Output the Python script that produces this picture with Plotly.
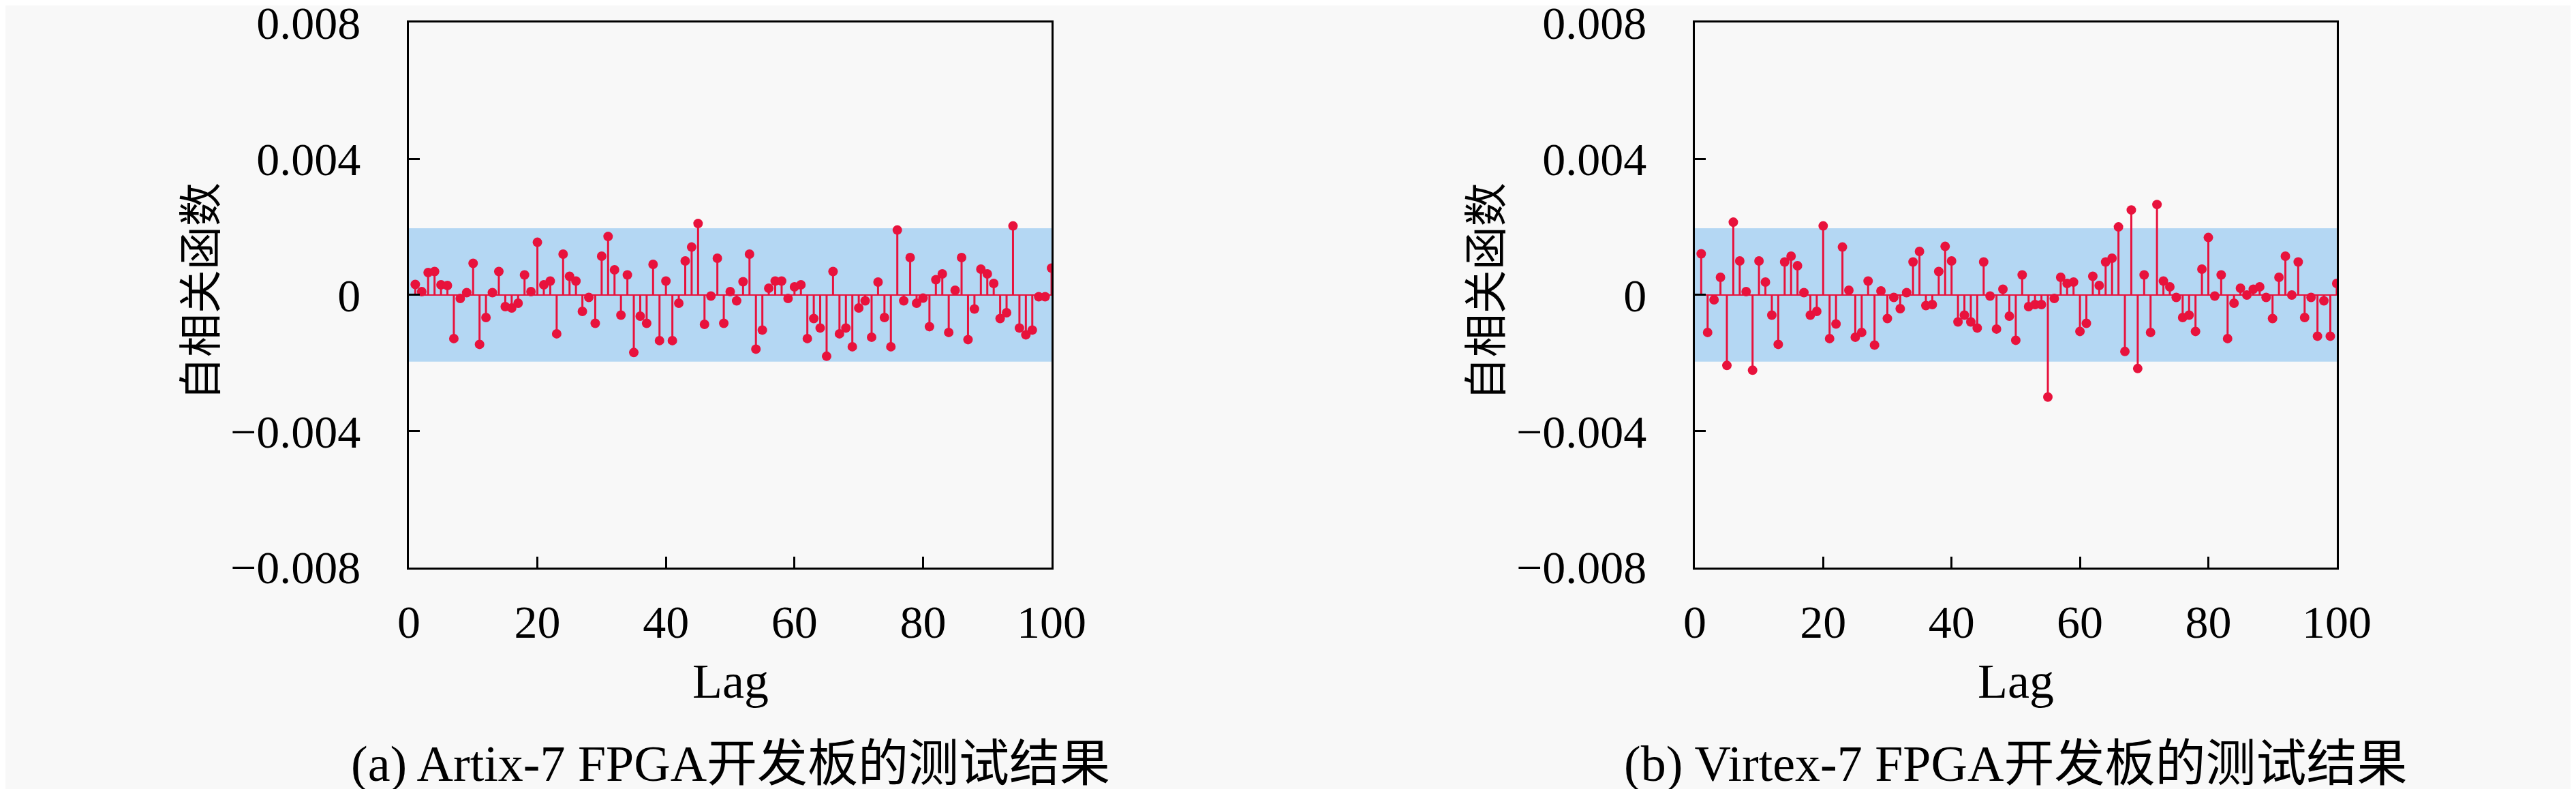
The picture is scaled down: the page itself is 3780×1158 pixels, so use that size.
import plotly.graph_objects as go

# autocorrelation by lag
lags = list(range(1, 101))

artix_acf = [
    0.00031, 0.00010, 0.00066, 0.00069, 0.00030, 0.00028, -0.00128, -0.00010, 0.00007, 0.00093,
    -0.00145, -0.00066, 0.00007, 0.00069, -0.00034, -0.00038, -0.00024, 0.00059, 0.00010, 0.00155,
    0.00030, 0.00041, -0.00114, 0.00120, 0.00055, 0.00041, -0.00048, -0.00007, -0.00083, 0.00114,
    0.00172, 0.00074, -0.00059, 0.00059, -0.00169, -0.00062, -0.00083, 0.00090, -0.00134, 0.00041,
    -0.00134, -0.00024, 0.00100, 0.00141, 0.00210, -0.00086, -0.00003, 0.00108, -0.00083, 0.00010,
    -0.00017, 0.00039, 0.00120, -0.00159, -0.00103, 0.00020, 0.00041, 0.00041, -0.00010, 0.00024,
    0.00030, -0.00128, -0.00069, -0.00097, -0.00180, 0.00069, -0.00114, -0.00097, -0.00152, -0.00038,
    -0.00017, -0.00124, 0.00038, -0.00066, -0.00152, 0.00191, -0.00017, 0.00110, -0.00024, -0.00009,
    -0.00093, 0.00045, 0.00062, -0.00110, 0.00014, 0.00110, -0.00131, -0.00041, 0.00076, 0.00062,
    0.00034, -0.00069, -0.00052, 0.00203, -0.00097, -0.00117, -0.00103, -0.00005, -0.00005, 0.00079,
]

virtex_acf = [
    0.00121, -0.00110, -0.00014, 0.00052, -0.00207, 0.00214, 0.00100, 0.00010, -0.00221, 0.00100,
    0.00038, -0.00059, -0.00145, 0.00097, 0.00114, 0.00086, 0.00007, -0.00059, -0.00048, 0.00203,
    -0.00128, -0.00085, 0.00141, 0.00014, -0.00124, -0.00110, 0.00041, -0.00147, 0.00012, -0.00069,
    -0.00007, -0.00040, 0.00007, 0.00097, 0.00128, -0.00031, -0.00028, 0.00069, 0.00143, 0.00100,
    -0.00079, -0.00059, -0.00079, -0.00097, 0.00097, -0.00003, -0.00100, 0.00017, -0.00062, -0.00133,
    0.00059, -0.00034, -0.00028, -0.00028, -0.00300, -0.00010, 0.00052, 0.00034, 0.00038, -0.00107,
    -0.00083, 0.00055, 0.00028, 0.00097, 0.00108, 0.00200, -0.00166, 0.00250, -0.00216, 0.00059,
    -0.00110, 0.00266, 0.00041, 0.00024, -0.00007, -0.00066, -0.00059, -0.00107, 0.00076, 0.00169,
    -0.00003, 0.00059, -0.00128, -0.00024, 0.00020, 0.00000, 0.00017, 0.00024, -0.00007, -0.00069,
    0.00052, 0.00114, 0.00000, 0.00097, -0.00066, -0.00007, -0.00121, -0.00017, -0.00121, 0.00034,
]

conf_bound = 0.00196
x_ticks = [0, 20, 40, 60, 80, 100]
y_ticks = [0.008, 0.004, 0, -0.004, -0.008]
y_tick_text = ["0.008", "0.004", "0", "\u22120.004", "\u22120.008"]
y_label = "自相关函数"
x_label = "Lag"
captions = ["(a) Artix-7 FPGA开发板的测试结果", "(b) Virtex-7 FPGA开发板的测试结果"]

RED = "#e8123c"
BAND = "#b4d7f3"
BG = "#f8f8f8"
FONT = "Liberation Serif, Noto Sans CJK SC, serif"
CJK = "Noto Sans CJK SC, sans-serif"


def stems(xs, ys):
    sx, sy = [], []
    for x, y in zip(xs, ys):
        sx += [x, x, None]
        sy += [0, y, None]
    return sx, sy


fig = go.Figure()

panels = [("x", "y", artix_acf), ("x2", "y2", virtex_acf)]
for xa, ya, acf in panels:
    sx, sy = stems(lags, acf)
    fig.add_trace(go.Scatter(x=[0, 100], y=[0, 0], mode="lines",
                             line=dict(color=RED, width=2),
                             xaxis=xa, yaxis=ya, showlegend=False, hoverinfo="skip"))
    fig.add_trace(go.Scatter(x=sx, y=sy, mode="lines",
                             line=dict(color=RED, width=3),
                             xaxis=xa, yaxis=ya, showlegend=False, hoverinfo="skip"))
    fig.add_trace(go.Scatter(x=lags, y=acf, mode="markers",
                             marker=dict(color=RED, size=14, line=dict(width=0)),
                             xaxis=xa, yaxis=ya, showlegend=False))
    fig.add_shape(type="rect", xref=xa + " domain", yref=ya,
                  x0=0, x1=1, y0=-conf_bound, y1=conf_bound,
                  fillcolor=BAND, line=dict(width=0), layer="below")

xdoms = [[0.1566, 0.4061], [0.6558, 0.9050]]
ydom = [0.2876, 0.9784]
y_range = [-0.00801, 0.00801]

axis_common = dict(
    showgrid=False, zeroline=False, showline=True, mirror=True,
    linecolor="black", linewidth=3, ticks="inside", ticklen=16,
    tickwidth=3, tickcolor="black", ticklabeloverflow="allow", automargin=False,
    tickfont=dict(family=FONT, size=68, color="black"),
)

fig.update_layout(
    width=3780, height=1158,
    margin=dict(l=0, r=0, t=0, b=0, autoexpand=False),
    paper_bgcolor=BG, plot_bgcolor=BG,
    xaxis=dict(domain=xdoms[0], range=[0, 100], tickvals=x_ticks, anchor="y",
               ticklabelstandoff=18, **axis_common),
    yaxis=dict(domain=ydom, range=y_range, tickvals=y_ticks,
               ticktext=y_tick_text, anchor="x", ticklabelstandoff=54, **axis_common),
    xaxis2=dict(domain=xdoms[1], range=[0, 100], tickvals=x_ticks, anchor="y2",
                ticklabelstandoff=18, **axis_common),
    yaxis2=dict(domain=ydom, range=y_range, tickvals=y_ticks,
                ticktext=y_tick_text, anchor="x2", ticklabelstandoff=54, **axis_common),
)

ylabel_x = [0.0745, 0.5735]
for i, dom in enumerate(xdoms):
    cx = (dom[0] + dom[1]) / 2
    fig.add_annotation(x=cx, y=0.143, xref="paper", yref="paper", text=x_label,
                       xanchor="center", yanchor="middle", showarrow=False,
                       font=dict(family=FONT, size=72, color="black"))
    fig.add_annotation(x=cx, y=0.039, xref="paper", yref="paper", text=captions[i],
                       xanchor="center", yanchor="middle", showarrow=False,
                       font=dict(family=FONT, size=74, color="black"))
    fig.add_annotation(x=ylabel_x[i], y=0.637, xref="paper", yref="paper", text=y_label,
                       xanchor="center", yanchor="middle", textangle=-90, showarrow=False,
                       font=dict(family=CJK, size=64, color="black"))

fig.write_html("out.html")
